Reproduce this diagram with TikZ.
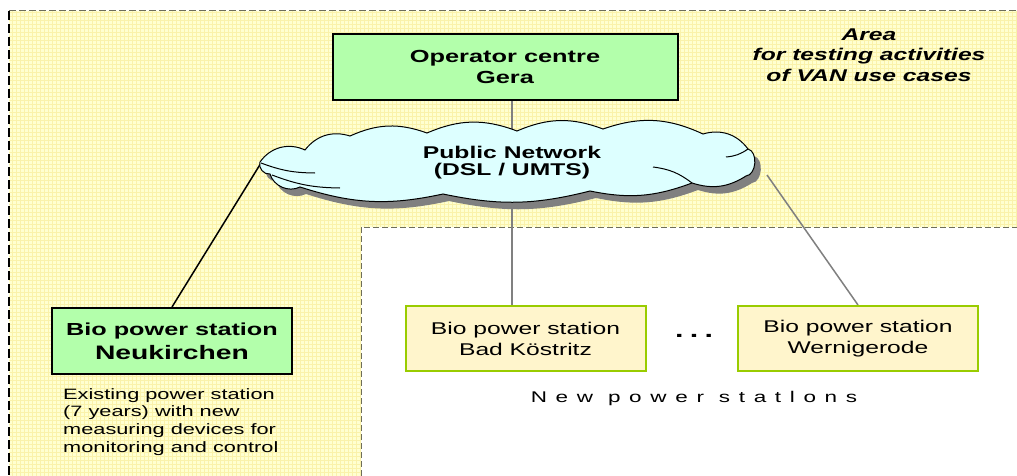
\documentclass[tikz,border=0pt]{standalone}
\usepackage{fontspec}
\setmainfont{Liberation Sans}[FakeStretch=1.45]
\usetikzlibrary{backgrounds,calc}
\definecolor{opgreen}{RGB}{179,255,171}
\definecolor{cloudcyan}{RGB}{221,255,255}
\definecolor{cream}{RGB}{255,245,204}
\definecolor{limeedge}{RGB}{153,204,0}
\definecolor{linkgray}{RGB}{128,128,128}
\definecolor{areayellow}{RGB}{255,255,208}
\definecolor{gridyellow}{RGB}{250,242,170}
\definecolor{dashgray}{RGB}{110,110,90}
\begin{document}
\begin{tikzpicture}[x=1pt,y=-1pt,
  mainbox/.style={draw=black,line width=2pt,fill=opgreen,inner sep=0pt,align=center,font=\bfseries},
  newbox/.style={draw=limeedge,line width=2pt,fill=cream,minimum width=240pt,minimum height=65pt,inner sep=0pt,align=center,font=\fontsize{17}{21}\selectfont},
  link/.style={draw=linkgray,line width=1.5pt}]
\useasboundingbox (0,0) rectangle (1017,476);
\def\lx{9};
\def\ty{11};
\def\wx{361};
\def\wy{227};
\def\cloudpath{(260,162) to[bend left=40] (305,150) to[bend left=35] (350,136) to[bend left=22] (427,133)
  to[bend left=22] (517,131) to[bend left=22] (603,129) to[bend left=22] (703,134) to[bend left=35] (748,149)
  to[bend left=80] (746,176) to[bend left=25] (692,183) to[bend left=16] (590,191) to[bend left=13] (443,194)
  to[bend left=15] (300,187) to[bend left=50] (270,174) to[bend left=60] (260,162) -- cycle};

\node[mainbox,minimum width=345pt,minimum height=66pt,font=\bfseries\fontsize{17.5}{21}\selectfont] (G) at (505,67) {Operator centre\\Gera};

% the cloud, drawn by hand with its shadow
\fill[black!50,shift={(6,7)}] \cloudpath;
\filldraw[fill=cloudcyan,draw=black,line width=1pt] \cloudpath;
\draw[line width=1pt] (261,163) to[bend right=10] (315,173);
\draw[line width=1pt] (272,175) to[bend right=10] (340,188);
\draw[line width=1pt] (653,167) to[bend left=15] (692,183);
\draw[line width=1pt] (726,157) to[bend right=15] (748,149);
\node[align=center,font=\bfseries\fontsize{17}{17}\selectfont] (N) at (512,163) {Public Network\\(DSL / UMTS)};
\coordinate (NL) at (261,163);
\coordinate (NR) at (767,175);

\node[mainbox,minimum width=240pt,minimum height=66pt,font=\bfseries\fontsize{17.4}{24}\selectfont] (NK) at (172,341) {Bio power station\\{\fontsize{19.5}{24}\selectfont Neukirchen}};
\node[anchor=north west,align=left,inner sep=0pt,font=\fontsize{15}{17.7}\selectfont] (DNK) at (63,388) {Existing power station\\(7 years) with new\\measuring devices for\\monitoring and control};

\node[newbox] (BK) at (525.5,338.5) {Bio power station\\Bad Köstritz};
\node[newbox] (WR) at (858,338.5) {Bio power station\\Wernigerode};
\node[font=\bfseries\fontsize{21}{24}\selectfont\addfontfeature{LetterSpace=30}] (DOTS) at (694,336) {...};
\node[font=\fontsize{15.5}{18}\selectfont\addfontfeature{LetterSpace=56}] (NP) at (694,398) {New power statlons};

\node[align=center,font=\bfseries\itshape\fontsize{17}{20.5}\selectfont] (AREA) at (869,55) {Area\\for testing activities\\of VAN use cases};

\begin{scope}[on background layer]
% test area and the new stations part
\fill[areayellow] (\lx,\ty) -- (1017,\ty) -- (1017,\wy) -- (\wx,\wy) -- (\wx,476) -- (\lx,476) -- cycle;
\begin{scope}
\clip (\lx,\ty) -- (1017,\ty) -- (1017,\wy) -- (\wx,\wy) -- (\wx,476) -- (\lx,476) -- cycle;
\draw[gridyellow,line width=0.4pt,step=4pt] (\lx,\ty) grid (1017,476);
\end{scope}
\draw[black,line width=1.5pt,dash pattern=on 9pt off 4pt] (\lx,\ty) -- (\lx,476);
\draw[dashgray,line width=1pt,dash pattern=on 7pt off 3pt] (\lx,\ty) -- (1017,\ty);
\draw[dashgray,line width=1pt,dash pattern=on 6pt off 3pt] (\wx,476) -- (\wx,\wy) -- (1017,\wy);

\draw[link] (G.south -| N.center) -- (N.center);
\draw[link] (N.center) -- (N.center |- BK.north);
\draw[line width=1.5pt] (NL) -- (NK.north);
\draw[link] (NR) -- (WR.north);
\end{scope}
\end{tikzpicture}
\end{document}
